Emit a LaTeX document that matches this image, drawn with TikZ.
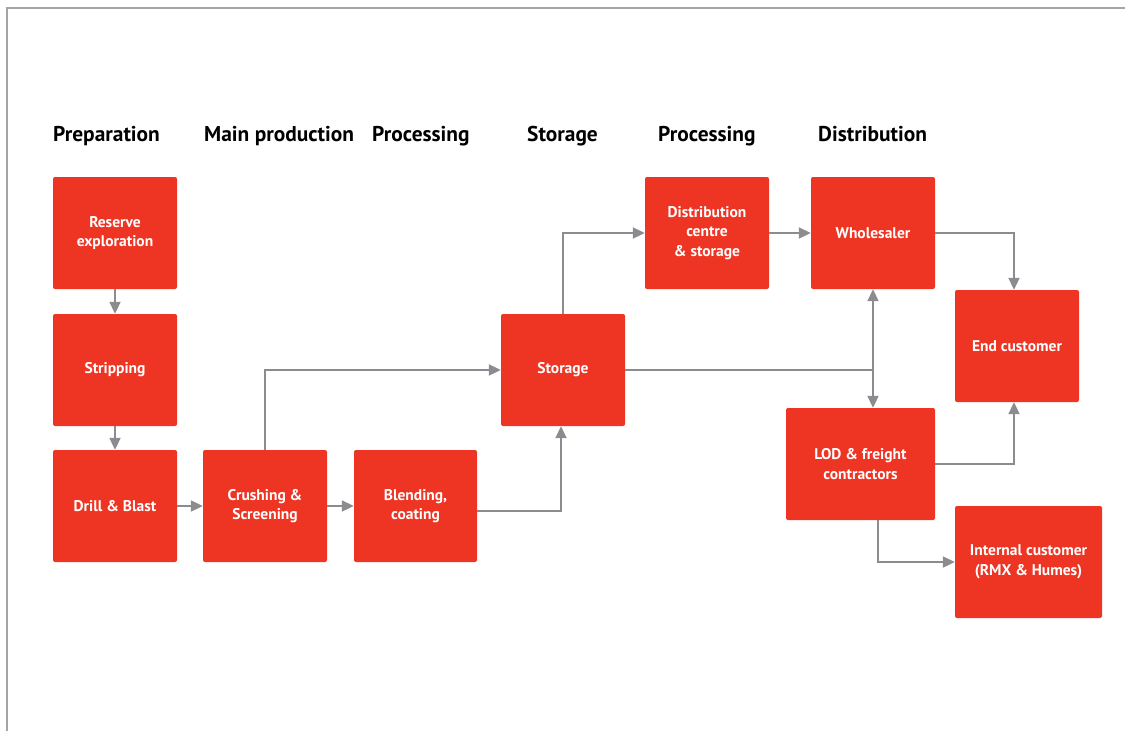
\documentclass[tikz,border=0pt]{standalone}
\usepackage{fontspec}
\setmainfont{PT Sans}
\usetikzlibrary{arrows.meta}
\definecolor{boxred}{RGB}{238,53,36}
\definecolor{arrgray}{RGB}{140,140,144}
\definecolor{framegray}{RGB}{165,165,165}
\tikzset{
  stage/.style={draw=none,fill=boxred,rounded corners=2pt,text=white,font=\bfseries\fontsize{15.5}{19.5}\selectfont,align=center,minimum width=124pt,minimum height=112pt,inner sep=0pt},
  heading/.style={anchor=base west,font=\bfseries\fontsize{21.4}{25}\selectfont,inner sep=0pt},
  flow/.style={draw=arrgray,line width=2pt,-{Triangle[length=12pt,width=11pt]}},
  frameline/.style={draw=framegray,line width=1.5pt}
}
\begin{document}
\begin{tikzpicture}[x=1pt,y=-1pt]
\useasboundingbox (0,0) rectangle (1125,731);
\draw[frameline] (7,731) -- (7,8) -- (1125,8);
% headings
\node[heading] (h1) at (53,141) {Preparation};
\node[heading] (h2) at (204,141) {Main production};
\node[heading] (h3) at (372,141) {Processing};
\node[heading] (h4) at (527,141) {Storage};
\node[heading] (h5) at (658,141) {Processing};
\node[heading] (h6) at (818,141) {Distribution};
% boxes
\node[stage] (res) at (115,233) {Reserve\\exploration};
\node[stage] (str) at (115,370) {Stripping};
\node[stage] (dri) at (115,506) {Drill \& Blast};
\node[stage] (cru) at (265,506) {Crushing \&\\Screening};
\node[stage,minimum width=123pt] (ble) at (415.5,506) {Blending,\\coating};
\node[stage] (sto) at (563,370) {Storage};
\node[stage] (dis) at (707,233) {Distribution\\centre\\\& storage};
\node[stage] (who) at (873,233) {Wholesaler};
\node[stage] (end) at (1017,346) {End customer};
\node[stage,minimum width=149pt] (lod) at (860.5,464) {LOD \& freight\\contractors};
\node[stage,minimum width=147pt] (int) at (1028.5,562) {Internal customer\\(RMX \& Humes)};
% junction coordinate
\coordinate (j) at (873,370);
% connectors
\draw[flow] (res) -- (str);
\draw[flow] (str) -- (dri);
\draw[flow] (dri) -- (cru);
\draw[flow] (cru) -- (ble);
\draw[flow] (cru.north) |- (sto.west);
\draw[flow] (ble.east |- 0,511) -| (sto.south -| 561,0);
\draw[flow] (sto.north) |- (dis.west);
\draw[flow] (dis) -- (who);
\draw[arrgray,line width=2pt] (sto.east) -- (j);
\draw[flow] (j) -- (who.south);
\draw[flow] (j) -- (lod.north -| j);
\draw[flow] (who.east) -| (end.north -| 1014,0);
\draw[flow] (lod.east) -| (end.south -| 1014,0);
\draw[flow] (lod.south -| 878,0) |- (int.west);
\end{tikzpicture}
\end{document}
